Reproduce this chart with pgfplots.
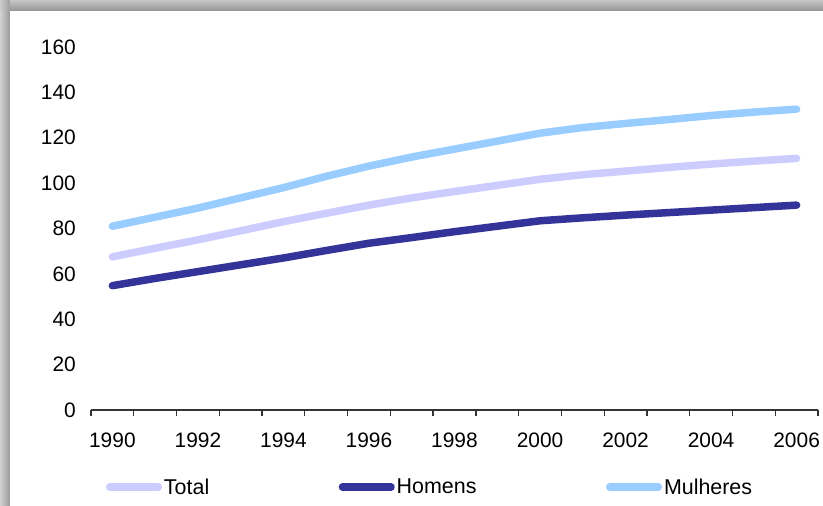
\documentclass[border=0pt]{standalone}
\usepackage{fontspec}
\setmainfont{Liberation Sans}
\usepackage{pgfplots}
\pgfplotsset{compat=1.18}

\definecolor{cTotal}{HTML}{CCCCFF}
\definecolor{cHomens}{HTML}{333399}
\definecolor{cMulheres}{HTML}{99CCFF}
\definecolor{axisgray}{HTML}{333333}

\begin{document}
\begin{tikzpicture}[x=1bp,y=1bp]
  % page frame with soft grey shadow on the top and left edges
  \useasboundingbox (-91,-96) rectangle (732,410);
  \fill[white] (-91,-96) rectangle (732,410);
  \shade[top color=black!22, bottom color=black!42] (-91,399) rectangle (732,410);
  \shade[left color=black!18, right color=black!40] (-91,-96) rectangle (-81,399);
  \shade[left color=black!20, right color=black!38] (-91,399) rectangle (-81,410);

  \begin{axis}[
    at={(0,0)}, anchor=south west,
    scale only axis,
    width=727bp, height=363bp,
    xmin=1989.5, xmax=2006.5,
    ymin=0, ymax=160,
    axis x line=bottom,
    axis y line=left,
    x axis line style={-, line width=1.3bp, color=axisgray},
    y axis line style={draw=none},
    xtick={1990,1992,...,2006},
    minor xtick={1989.5,1990.5,...,2006.5},
    ytick={0,20,...,160},
    major tick length=0pt,
    minor tick length=6bp,
    tick align=outside,
    minor tick style={line width=1.3bp, color=axisgray},
    /pgf/number format/assume math mode=true,
    /pgf/number format/1000 sep={},
    tick label style={font=\fontsize{21}{24}\selectfont, text=black},
    xticklabel style={inner sep=0pt, anchor=north, yshift=-23bp},
    yticklabel style={inner sep=0pt, anchor=east, xshift=-15bp},
    clip=false,
    legend columns=-1,
    legend style={
      draw=none, fill=none,
      inner sep=0pt, outer sep=0pt,
      font=\fontsize{21.5}{24}\selectfont,
      at={(15bp,-77bp)}, anchor=west,
      nodes={inner sep=0pt, outer sep=0pt},
      /tikz/every odd column/.append style={column sep=2bp},
      /tikz/every even column/.append style={column sep=129.5bp},
    },
    legend image code/.code={%
      \draw[#1, line width=7.5bp, line cap=round] (3.75bp,0bp) -- (52.25bp,0bp);},
    every axis plot/.append style={line width=7.5bp, line cap=round, line join=round, mark=none},
  ]
    % Total
    \addplot[color=cTotal] coordinates {
      (1990,67.5) (1991,71.3) (1992,75.0) (1993,79.0) (1994,83.0) (1995,86.7)
      (1996,90.3) (1997,93.5) (1998,96.3) (1999,99.0) (2000,101.7) (2001,103.7)
      (2002,105.3) (2003,106.9) (2004,108.4) (2005,109.7) (2006,110.9)};
    \addlegendentry{Total}
    % Homens
    \addplot[color=cHomens] coordinates {
      (1990,54.8) (1991,58.0) (1992,61.0) (1993,64.0) (1994,67.0) (1995,70.3)
      (1996,73.5) (1997,76.0) (1998,78.6) (1999,81.0) (2000,83.4) (2001,84.7)
      (2002,85.9) (2003,87.0) (2004,88.1) (2005,89.2) (2006,90.3)};
    \addlegendentry{Homens}
    % Mulheres
    \addplot[color=cMulheres] coordinates {
      (1990,81.0) (1991,85.0) (1992,89.0) (1993,93.5) (1994,98.0) (1995,103.0)
      (1996,107.5) (1997,111.5) (1998,115.0) (1999,118.5) (2000,122.0) (2001,124.5)
      (2002,126.3) (2003,128.0) (2004,129.8) (2005,131.3) (2006,132.6)};
    \addlegendentry{Mulheres}
  \end{axis}
\end{tikzpicture}
\end{document}
